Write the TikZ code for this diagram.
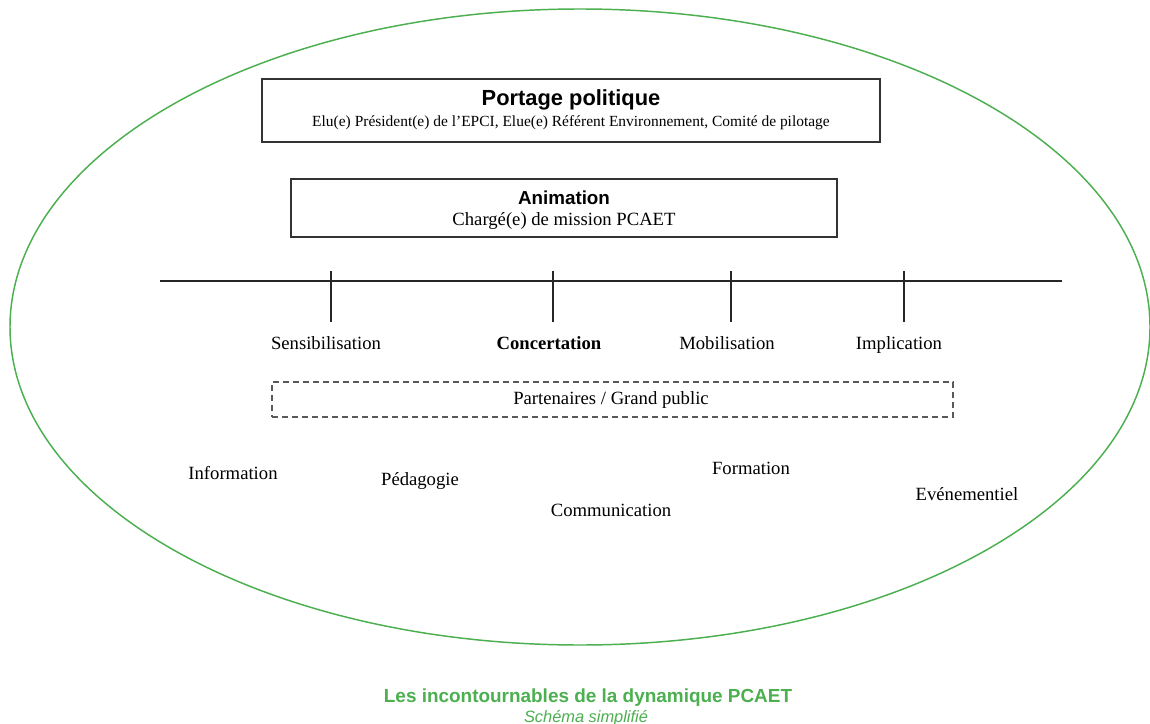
\documentclass[tikz,border=0pt]{standalone}
\usepackage{fontspec}
\setmainfont{Liberation Serif}
\newfontfamily\headfont{Liberation Sans}
\definecolor{pcaetgreen}{HTML}{4CAF50}
\definecolor{boxline}{HTML}{333333}
\begin{document}
\begin{tikzpicture}[x=0.75pt,y=-0.75pt,
  framebox/.style={draw=boxline, line width=1.4pt, inner sep=0pt},
  dashbox/.style={draw=black!65, line width=0.9pt, dash pattern=on 4.5pt off 3pt, inner sep=0pt},
  headtext/.style={font=\headfont\bfseries\fontsize{16.4}{19}\selectfont, inner sep=0pt},
  subtext/.style={font=\fontsize{11.6}{14}\selectfont, inner sep=0pt},
  label/.style={font=\fontsize{14}{17}\selectfont, inner sep=0pt},
  steplabel/.style={label, anchor=base},
  tickline/.style={draw=black!85, line width=1pt},
]
\useasboundingbox (0,0) rectangle (1150,724);
\fill[white] (0,0) rectangle (1150,724);

% outer ellipse
\draw[pcaetgreen, line width=1.1pt] (580,327) ellipse [x radius=427.5pt, y radius=238.5pt];

% political leadership
\node[framebox, minimum width=463.5pt, minimum height=47.25pt] (portage) at (571,110.5) {};
\node[headtext] (portageT) at (571,100) {Portage politique};
\node[subtext] (portageS) at (571,123) {Elu(e) Président(e) de l’EPCI, Elue(e) Référent Environnement, Comité de pilotage};

% animation
\node[framebox, minimum width=409.5pt, minimum height=43.5pt] (anim) at (564,208) {};
\node[headtext, font=\headfont\bfseries\fontsize{14.1}{17}\selectfont] (animT) at (564,198) {Animation};
\node[label] (animS) at (564,221) {Chargé(e) de mission PCAET};

% timeline
\coordinate (tl) at (160,281);
\coordinate (tr) at (1062,281);
\draw[draw=black!85, line width=1.4pt] (tl) -- (tr);

\coordinate (t1a) at (331,271); \coordinate (t1b) at (331,322);
\coordinate (t2a) at (553,271); \coordinate (t2b) at (553,322);
\coordinate (t3a) at (731,271); \coordinate (t3b) at (731,322);
\coordinate (t4a) at (904,271); \coordinate (t4b) at (904,322);
\draw[tickline] (t1a) -- (t1b);
\draw[tickline] (t2a) -- (t2b);
\draw[tickline] (t3a) -- (t3b);
\draw[tickline] (t4a) -- (t4b);

\node[steplabel] (sens) at (326,349.5) {Sensibilisation};
\node[steplabel, font=\bfseries\fontsize{14}{17}\selectfont] (conc) at (549,349.5) {Concertation};
\node[steplabel] (mob) at (727,349.5) {Mobilisation};
\node[steplabel] (impl) at (899,349.5) {Implication};

% partners
\node[dashbox, minimum width=510.75pt, minimum height=26.25pt] (part) at (612.5,399.5) {};
\node[label] (partT) at (611,400) {Partenaires / Grand public};

% tools
\node[label] (info) at (233,473) {Information};
\node[label] (peda) at (420,481) {Pédagogie};
\node[label] (comm) at (611,510) {Communication};
\node[label] (form) at (751,468) {Formation};
\node[label] (even) at (967,494) {Evénementiel};

% caption
\node[font=\headfont\bfseries\fontsize{14.2}{17}\selectfont, text=pcaetgreen, inner sep=0pt, anchor=base] (cap) at (588,702) {Les incontournables de la dynamique PCAET};
\node[font=\headfont\itshape\fontsize{12.3}{15}\selectfont, text=pcaetgreen, inner sep=0pt, anchor=base] (capS) at (586,722) {Schéma simplifié};
\end{tikzpicture}
\end{document}
